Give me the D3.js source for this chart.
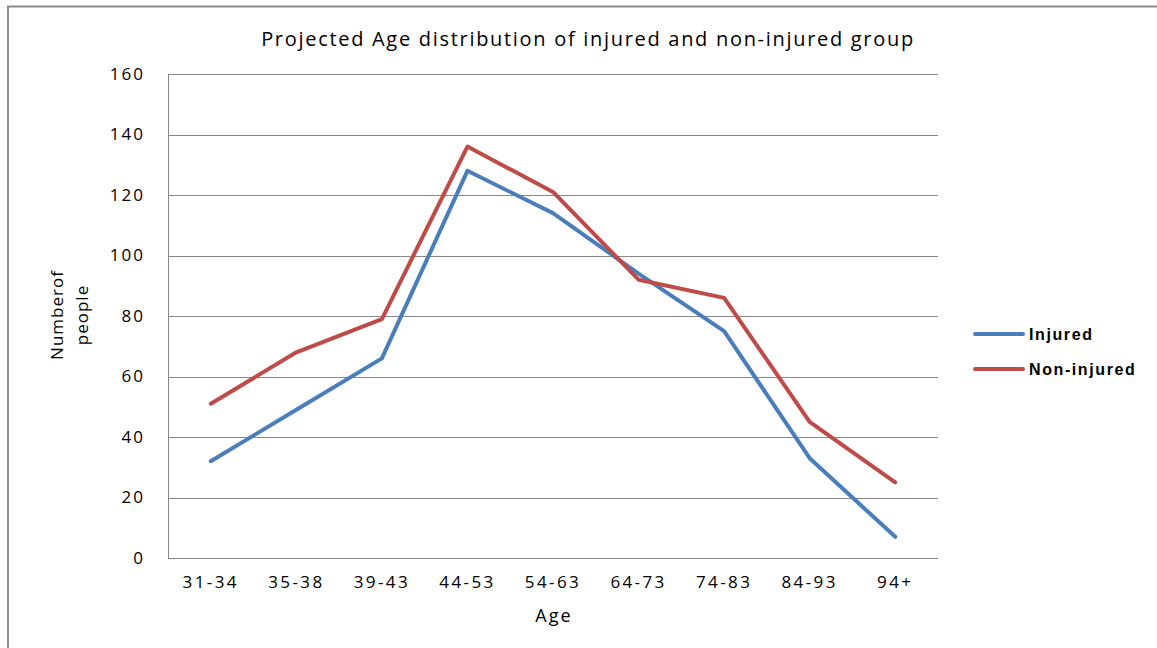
<!DOCTYPE html>
<html>
<head>
<meta charset="utf-8">
<script src="https://cdn.jsdelivr.net/npm/d3@7"></script>
<style>
  body { margin: 0; background: #fff; }
  text { font-family: "Open Sans", "Noto Sans", sans-serif; fill: #000; }
</style>
</head>
<body>
<div class="graph"></div>
<script>
// Data
const ageGroups = ["31-34", "35-38", "39-43", "44-53", "54-63", "64-73", "74-83", "84-93", "94+"];
const injured = [32, 49, 66, 128, 114, 94, 75, 33, 7];
const nonInjured = [51, 68, 79, 136, 121, 92, 86, 45, 25];
const yTicks = [0, 20, 40, 60, 80, 100, 120, 140, 160];

const seriesNames = ["Injured", "Non-injured"];
const seriesColors = ["#4a7ebb", "#be4b48"];

let width = 1157;
let height = 648;
let margin = { left: 168, right: 219, top: 74, bottom: 90 };

let svg = d3.select(".graph").append("svg")
  .attr("width", width)
  .attr("height", height);

// outer frame (only top and left edges show in the picture)
svg.append("path")
  .attr("d", "M8,648 V6.5 H1157")
  .attr("fill", "none")
  .attr("stroke", "#8c8c8c")
  .attr("stroke-width", 2);

let x = d3.scaleBand()
  .domain(ageGroups)
  .range([margin.left, width - margin.right]);

let y = d3.scaleLinear()
  .domain([0, 160])
  .range([height - margin.bottom, margin.top]);

// horizontal grid lines
svg.append("g")
  .attr("class", "grid")
  .attr("transform", "translate(" + margin.left + ",0)")
  .call(d3.axisLeft(y).tickValues(yTicks).tickSize(-(width - margin.left - margin.right)).tickFormat(""))
  .call(g => g.select(".domain").remove())
  .call(g => g.selectAll("line").attr("stroke", "#878787").attr("stroke-width", 1)
    .attr("shape-rendering", "crispEdges"));

// y axis
let yAxis = svg.append("g")
  .attr("transform", "translate(" + margin.left + ",0)")
  .call(d3.axisLeft(y).tickValues(yTicks).tickSize(0).tickPadding(23));
yAxis.select(".domain").remove();
yAxis.selectAll("text")
  .style("font-size", "17px")
  .style("letter-spacing", "2px");

svg.append("line")
  .attr("x1", margin.left + 0.5).attr("x2", margin.left + 0.5)
  .attr("y1", margin.top).attr("y2", height - margin.bottom)
  .attr("stroke", "#878787");

// x axis
let xAxis = svg.append("g")
  .attr("transform", "translate(0," + (height - margin.bottom) + ")")
  .call(d3.axisBottom(x).tickSize(0).tickPadding(18));
xAxis.select(".domain").remove();
xAxis.selectAll("text")
  .style("font-size", "17px")
  .style("letter-spacing", "2.4px");

// lines
let line = d3.line()
  .x((d, i) => x(ageGroups[i]) + x.bandwidth() / 2)
  .y(d => y(d));

[injured, nonInjured].forEach((values, k) => {
  svg.append("path")
    .datum(values)
    .attr("fill", "none")
    .attr("stroke", seriesColors[k])
    .attr("stroke-width", 4)
    .attr("stroke-linejoin", "round")
    .attr("stroke-linecap", "round")
    .attr("d", line);
});

// title
svg.append("text")
  .attr("x", 588)
  .attr("y", 46)
  .attr("text-anchor", "middle")
  .style("font-size", "20px")
  .style("letter-spacing", "1.7px")
  .text("Projected Age distribution of injured and non-injured group");

// axis titles
svg.append("text")
  .attr("x", 554)
  .attr("y", 622)
  .attr("text-anchor", "middle")
  .style("font-size", "18px")
  .style("letter-spacing", "2px")
  .text("Age");

let yTitle = svg.append("text")
  .attr("transform", "translate(63,315) rotate(-90)")
  .attr("text-anchor", "middle")
  .style("font-size", "17px")
  .style("letter-spacing", "1px");
yTitle.append("tspan").attr("x", 0).attr("dy", 0).text("Numberof");
yTitle.append("tspan").attr("x", 0).attr("dy", 25).text("people");

// legend
let legend = svg.append("g").attr("transform", "translate(975,334)");
seriesNames.forEach((name, k) => {
  let row = legend.append("g").attr("transform", "translate(0," + (k * 35) + ")");
  row.append("line")
    .attr("x1", 0).attr("x2", 48)
    .attr("stroke", seriesColors[k])
    .attr("stroke-width", 4)
    .attr("stroke-linecap", "round");
  row.append("text")
    .attr("x", 54)
    .attr("dy", "0.35em")
    .style("font-size", "16px")
    .style("font-family", "'Liberation Sans', Arial, sans-serif")
    .style("font-weight", "bold")
    .style("letter-spacing", "1.6px")
    .text(name);
});
</script>
</body>
</html>
